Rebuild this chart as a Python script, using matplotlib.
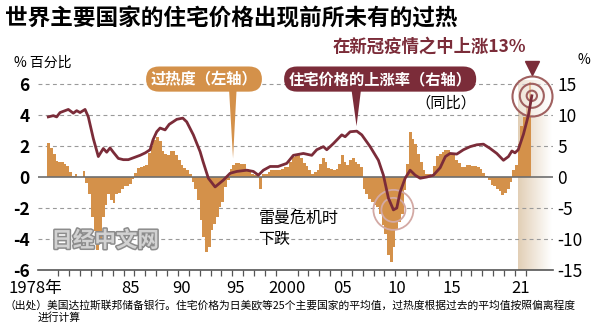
import numpy as np
import matplotlib
matplotlib.use("Agg")
import matplotlib.pyplot as plt
import matplotlib.patheffects as pe
from matplotlib.patches import Polygon
from matplotlib.colors import LinearSegmentedColormap
from matplotlib.transforms import offset_copy

plt.rcParams['font.family'] = ['Noto Sans CJK SC', 'DejaVu Sans']

# overheating degree (left axis), quarterly from 1978 Q1
bar_start = 1978.0
bar_v = [2.2, 1.85, 1.5, 1.05,  1.0, 1.0, 0.86, 0.7,  0.34, 0.06, 0.2, 0.0,
         0.0, 0.39, -0.37, -1.1,  -2.6, -3.5, -4.7, -4.1,  -2.6, -1.8, -1.1, -1.5,
         -1.65, -1.1, -1.0, -0.8,  -0.6, -0.6, -0.47, -0.1,  0.28, 0.6, 0.65, 0.7,
         0.8, 1.55, 2.0, 2.4,  2.6, 2.3, 1.65, 1.46,  1.44, 1.65, 1.7, 1.4,
         1.07, 0.8, 0.6, 0.43,  0.2, -0.32, -0.75, -1.5,  -2.8, -3.87, -4.84, -4.5,
         -3.44, -3.0, -2.58, -1.94,  -1.6, -0.65, -0.2, 0.54,  0.75, 0.9, 0.9, 0.82,
         0.82, 0.54, 0.43, 0.22,  0.1, 0.1, -0.75, 0.2,  0.2, 0.3, 0.43, 0.43,
         0.43, 0.43, 0.5, 0.65,  0.65, 0.97, 1.3, 1.4,  1.4, 1.2, 0.9, 0.7,
         0.43, 0.2, 0.3, 0.43,  0.86, 1.2, 0.97, 0.6,  0.5, 0.43, 0.54, 0.86,
         1.4, 1.0, 0.75, 1.1,  1.2, 0.97, 0.86, 0.65,  -0.75, -1.07, -1.4, -1.6,
         -1.8, -1.94, -2.37, -3.1,  -3.66, -5.0, -5.5, -4.5,  -3.44, -2.9, -2.37, -0.86,
         0.86, 2.9, 2.47, 2.15,  1.5, 0.97, 0.43, 0.22,  0.2, 0.15, 0.7, 1.33,
         1.5, 1.6, 1.72, 1.72,  1.55, 1.55, 1.12, 0.9,  0.65, 0.65, 0.8, 0.8,
         0.73, 0.73, 0.65, 0.5,  0.26, 0.05, -0.22, -0.5,  -0.6, -0.8, -0.92, -1.14,
         -1.0, -0.8, -0.3, 0.47,  0.8, 2.1, 3.27, 3.9,  4.56, 6.1]

# house price growth, year on year (right axis)
line_t = [1978.08, 1978.54, 1978.85, 1979.16, 1979.92, 1980.38, 1980.69, 1981.0,
          1981.46, 1981.76, 1982.22, 1982.68, 1983.14, 1983.45, 1983.76, 1984.06,
          1984.52, 1984.98, 1985.44, 1986.06, 1986.52, 1987.0, 1987.44, 1987.71,
          1988.05, 1988.36, 1988.82, 1989.2, 1989.55, 1989.89, 1990.15, 1990.45,
          1990.81, 1991.42, 1992.04, 1992.31, 1992.8, 1993.42, 1994.18, 1994.8,
          1995.41, 1996.33, 1996.94, 1997.4, 1997.86, 1998.48, 1999.21, 2000.01,
          2000.62, 2001.54, 2002.31, 2002.77, 2003.38, 2003.69, 2004.3, 2005.07,
          2005.38, 2005.84, 2006.45, 2006.91, 2007.68, 2008.44, 2008.9, 2009.36,
          2009.82, 2010.13, 2010.44, 2010.9, 2011.36, 2011.82, 2012.28, 2012.89,
          2013.5, 2014.12, 2014.6, 2015.03, 2015.65, 2016.26, 2016.88, 2017.49,
          2018.1, 2018.72, 2019.33, 2019.94, 2020.4, 2020.72, 2021.0, 2021.3,
          2021.78, 2022.24, 2022.55]
line_r = [9.7, 9.9, 9.7, 10.4, 10.9, 10.3, 10.7, 10.4,
          10.9, 9.7, 6.2, 3.3, 4.6, 4.0, 4.7, 4.0,
          3.0, 2.8, 2.8, 3.2, 3.5, 3.9, 4.4, 6.0,
          7.3, 7.9, 7.6, 8.5, 8.9, 9.3, 9.4, 9.5,
          8.9, 6.8, 4.1, 2.5, -0.2, -1.6, -0.5, 0.6,
          0.9, 1.1, 0.9, 0.3, 1.1, 1.7, 1.7, 2.2,
          3.5, 3.8, 3.5, 4.4, 4.9, 4.4, 5.4, 6.8,
          6.5, 7.3, 7.4, 6.8, 4.9, 2.7, 0.3, -3.4,
          -5.3, -5.0, -2.4, -0.2, 1.1, 0.3, -0.2, 0.0,
          0.3, 1.5, 3.3, 3.8, 3.7, 4.4, 4.9, 5.2,
          5.3, 4.6, 3.8, 2.7, 3.3, 4.2, 3.9, 4.4,
          6.9, 10.0, 13.1]

xtick_pos = [1979.35, 1985.6, 1990.3, 1995.3, 2000.0, 2005.1, 2010.1, 2015.2, 2021.5]
xtick_lab = ['1978年', '85', '90', '95', '2000', '05', '10', '15', '21']
left_ticks = [-6, -4, -2, 0, 2, 4, 6]
right_ticks = [-15, -10, -5, 0, 5, 10, 15]

orange = '#d4914a'
maroon = '#7b2c39'

fig = plt.figure(figsize=(6, 3.27), dpi=100)
ax = fig.add_axes([0.0633, 0.1743, 0.8584, 0.6422])
ax2 = ax.twinx()

# highlight band for the latest period
grad = np.linspace(1, 0, 64).reshape(1, -1)
cm = LinearSegmentedColormap.from_list('band', ['#ffffff', '#e2cfb6'])
ax.imshow(grad, extent=[2021.3, 2024.4, -6, 6.2], aspect='auto', cmap=cm,
          vmin=0, vmax=1, zorder=0)

for g in [6, 4, 2, -2, -4]:
    ax.axhline(g, color='#9a9a9a', lw=0.8, ls=(0, (3.5, 3)), zorder=0.5)

bar_t = bar_start + 0.25 * np.arange(len(bar_v))
ax.bar(bar_t, bar_v, width=0.25, align='edge', color=orange, linewidth=0, zorder=2)
ax.axhline(0, color='#6e6e6e', lw=1.2, zorder=3)

ax.set_xlim(1977.13, 2024.5)
ax.set_ylim(-6, 7.55)
ax2.set_ylim(-15, 7.55 * 2.5)

for a in (ax, ax2):
    for s in ['top', 'left', 'right']:
        a.spines[s].set_visible(False)
ax2.spines['bottom'].set_visible(False)
ax.spines['bottom'].set_color('#555555')
ax.spines['bottom'].set_linewidth(1.2)

ax.set_xticks(xtick_pos)
ax.set_xticklabels(xtick_lab, fontsize=12)
ax.get_xticklabels()[0].set_horizontalalignment('right')
ax.set_xticks(np.arange(1979, 2023), minor=True)
ax.tick_params(axis='x', which='major', length=0, pad=7)
ax.tick_params(axis='x', which='minor', length=4, width=0.9, color='#555555', direction='out')

ax.set_yticks(left_ticks)
ax.set_yticklabels([str(v) for v in left_ticks], fontsize=12.5, fontweight='bold')
ax.tick_params(axis='y', length=0, pad=6)
ax2.set_yticks(right_ticks)
ax2.set_yticklabels([str(v) for v in right_ticks], fontsize=12.5)
ax2.tick_params(axis='y', length=0, pad=3)

ax2.plot(line_t, line_r, color=maroon, lw=2.0, solid_joinstyle='round', zorder=4)

# rings at the Lehman low and at the latest peak
i_low = int(np.argmin(line_r))
for s, lw in [(830, 1.3), (300, 1.3)]:
    ax2.scatter(line_t[i_low], line_r[i_low], s=s, facecolors='none',
                edgecolors='#d3a9a4', linewidths=lw, zorder=3)
ax2.scatter(line_t[-1], line_r[-1], s=830, facecolors=(1, 1, 1, 0.45),
            edgecolors='#a0605f', linewidths=1.5, zorder=3)
for s in [300, 55]:
    ax2.scatter(line_t[-1], line_r[-1], s=s, facecolors='none',
                edgecolors='#a0605f', linewidths=1.5, zorder=3)
tri = offset_copy(ax2.transData, fig=fig, y=20, units='points')
ax2.plot(line_t[-1], line_r[-1], marker='v', ms=10, color=maroon, transform=tri,
         clip_on=False, zorder=5)

# legend labels with pointers
ax.text(1992.4, 6.32, '过热度（左轴）', ha='center', va='center', color='white',
        fontsize=11, fontweight='bold', zorder=6,
        bbox=dict(boxstyle='round,pad=0.3,rounding_size=0.85', fc=orange, ec='none'))
ax.add_patch(Polygon([[1994.7, 5.7], [1995.4, 5.7], [1995.07, 1.2]], closed=True,
                     fc=orange, ec='none', zorder=5))
ax2.text(2008.6, 6.32 * 2.5, '住宅价格的上涨率（右轴）', ha='center', va='center',
         color='white', fontsize=11, fontweight='bold', zorder=6,
         bbox=dict(boxstyle='round,pad=0.3,rounding_size=0.85', fc=maroon, ec='none'))
ax2.add_patch(Polygon([[2005.95, 5.7 * 2.5], [2006.85, 5.7 * 2.5], [2006.43, 8.2]],
                      closed=True, fc=maroon, ec='none', zorder=5))
ax2.text(2014.6, 4.77 * 2.5, '（同比）', ha='center', va='center', fontsize=11, zorder=6)

ax.text(1997.4, -3.35, '雷曼危机时\n下跌', ha='left', va='center', fontsize=11.5,
        linespacing=1.35, zorder=6)

ax.text(1983.3, -4.1, '日经中文网', ha='center', va='center', fontsize=15.5,
        fontweight='bold', color='#d2d2d2', zorder=6,
        path_effects=[pe.withStroke(linewidth=2.2, foreground='#8c8c8c')])

fig.text(0.008, 1 - 19 / 327, '世界主要国家的住宅价格出现前所未有的过热',
         fontsize=16.3, fontweight='bold', va='center', ha='left')
fig.text(0.555, 1 - 46.5 / 327, '在新冠疫情之中上涨13%', fontsize=12.5,
         fontweight='bold', color=maroon, va='center', ha='left')
fig.text(0.024, 1 - 63 / 327, '% 百分比', fontsize=10, va='center', ha='left')
fig.text(0.963, 1 - 60 / 327, '%', fontsize=10, va='center', ha='left')

fig.text(0.008, 1 - 305 / 327,
         '（出处）美国达拉斯联邦储备银行。住宅价格为日美欧等25个主要国家的平均值，过热度根据过去的平均值按照偏离程度',
         fontsize=7.75, va='center', ha='left')
fig.text(0.063, 1 - 318 / 327, '进行计算', fontsize=7.75, va='center', ha='left')

fig.savefig('out.png', dpi=100)
